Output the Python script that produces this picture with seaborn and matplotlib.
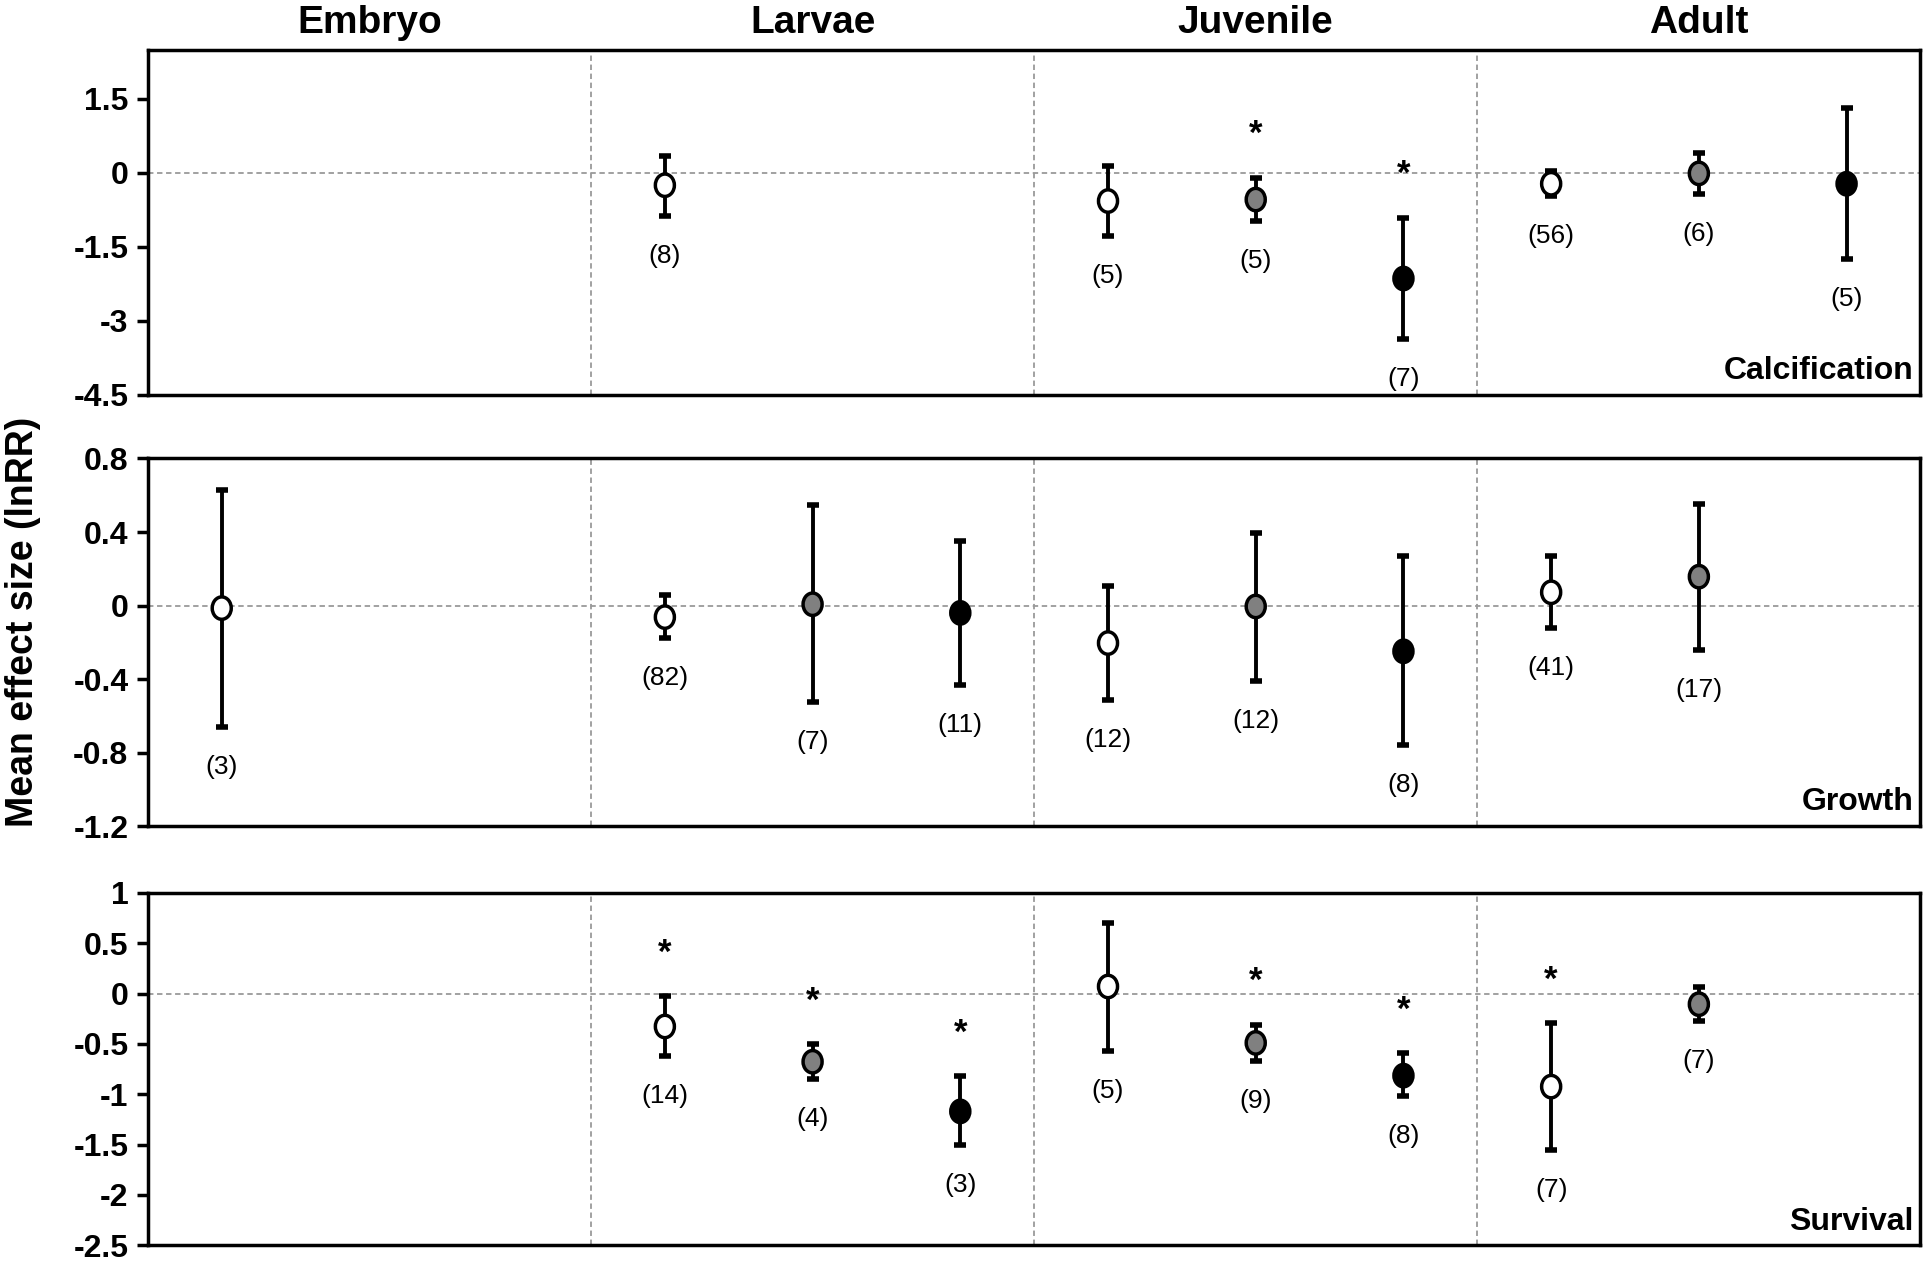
import numpy as np
import pandas as pd
import matplotlib
matplotlib.use("Agg")
import matplotlib.pyplot as plt
from matplotlib.ticker import FuncFormatter
from matplotlib.path import Path
from matplotlib.transforms import Affine2D
import seaborn as sns

# life stages (columns) and pCO2 levels (0 = white, 1 = grey, 2 = black)
stages = ["Embryo", "Larvae", "Juvenile", "Adult"]
level_colors = {0: "white", 1: "#808080", 2: "black"}

# Calcification
calc_stage = ["Larvae", "Juvenile", "Juvenile", "Juvenile", "Adult", "Adult", "Adult"]
calc_level = [0, 0, 1, 2, 0, 1, 2]
calc_mean = [-0.25, -0.57, -0.54, -2.14, -0.22, -0.01, -0.22]
calc_lo = [-0.88, -1.27, -0.97, -3.37, -0.46, -0.42, -1.75]
calc_hi = [0.35, 0.13, -0.10, -0.91, 0.03, 0.40, 1.32]
calc_n = [8, 5, 5, 7, 56, 6, 5]
calc_sig = [False, False, True, True, False, False, False]
calc_ticks = [-4.5, -3, -1.5, 0, 1.5]

# Growth
grow_stage = ["Embryo", "Larvae", "Larvae", "Larvae", "Juvenile", "Juvenile", "Juvenile", "Adult", "Adult"]
grow_level = [0, 0, 1, 2, 0, 1, 2, 0, 1]
grow_mean = [-0.014, -0.063, 0.007, -0.04, -0.204, -0.005, -0.249, 0.072, 0.157]
grow_lo = [-0.663, -0.177, -0.527, -0.433, -0.514, -0.409, -0.761, -0.123, -0.243]
grow_hi = [0.63, 0.058, 0.547, 0.353, 0.108, 0.397, 0.267, 0.267, 0.553]
grow_n = [3, 82, 7, 11, 12, 12, 8, 41, 17]
grow_sig = [False] * 9
grow_ticks = [-1.2, -0.8, -0.4, 0, 0.4, 0.8]

# Survival
surv_stage = ["Larvae", "Larvae", "Larvae", "Juvenile", "Juvenile", "Juvenile", "Adult", "Adult"]
surv_level = [0, 1, 2, 0, 1, 2, 0, 1]
surv_mean = [-0.327, -0.677, -1.17, 0.07, -0.49, -0.815, -0.924, -0.106]
surv_lo = [-0.617, -0.85, -1.50, -0.57, -0.67, -1.02, -1.55, -0.277]
surv_hi = [-0.026, -0.50, -0.82, 0.70, -0.31, -0.594, -0.297, 0.066]
surv_n = [14, 4, 3, 5, 9, 8, 7, 7]
surv_sig = [True, True, True, False, True, True, True, False]
surv_ticks = [-2.5, -2, -1.5, -1, -0.5, 0, 0.5, 1]

panels = [
    ("Calcification", calc_stage, calc_level, calc_mean, calc_lo, calc_hi, calc_n, calc_sig, calc_ticks, 2.5),
    ("Growth", grow_stage, grow_level, grow_mean, grow_lo, grow_hi, grow_n, grow_sig, grow_ticks, 0.8),
    ("Survival", surv_stage, surv_level, surv_mean, surv_lo, surv_hi, surv_n, surv_sig, surv_ticks, 1.0),
]

sns.set_style("white")
plt.rcParams["font.family"] = ["Liberation Sans", "DejaVu Sans"]
plt.rcParams["axes.unicode_minus"] = False
plt.rcParams["text.color"] = "black"
plt.rcParams["ytick.color"] = "black"
plt.rcParams["axes.labelcolor"] = "black"

# slightly tall oval marker, like the original figure
oval = Path.unit_circle().transformed(Affine2D().scale(0.85, 1.0))

fig = plt.figure(figsize=(19.33, 12.7), dpi=100)
boxes = [
    [0.0765, 0.689, 0.917, 0.272],
    [0.0765, 0.3495, 0.917, 0.2895],
    [0.0765, 0.0194, 0.917, 0.2776],
]

for i, (name, stg, lvl, mean, lo, hi, n, sig, ticks, ytop) in enumerate(panels):
    ax = fig.add_axes(boxes[i])
    df = pd.DataFrame({"stage": stg, "level": lvl, "mean": mean, "lo": lo, "hi": hi, "n": n, "sig": sig})
    df["x"] = [stages.index(s) * 3 + l for s, l in zip(df["stage"], df["level"])]

    ax.axhline(0, color="#9a9a9a", lw=1.3, ls=(0, (3, 2)), zorder=0)
    for b in [2.5, 5.5, 8.5]:
        ax.axvline(b, color="#9a9a9a", lw=1.3, ls=(0, (3, 2)), zorder=0)

    ax.errorbar(df["x"], df["mean"], yerr=[df["mean"] - df["lo"], df["hi"] - df["mean"]],
                fmt="none", ecolor="black", elinewidth=2.8, capsize=4.5, capthick=4, zorder=2)
    sns.scatterplot(data=df, x="x", y="mean", hue="level", palette=level_colors, s=260,
                    marker=oval, edgecolor="black", linewidth=2.5, legend=False, zorder=3, ax=ax)

    for _, r in df.iterrows():
        ax.annotate(f"({r['n']})", (r["x"], r["lo"]), xytext=(0, -40), textcoords="offset pixels",
                    ha="center", va="center", fontsize=19)
        if r["sig"]:
            ax.annotate("*", (r["x"], r["hi"]), xytext=(0, 43), textcoords="offset pixels",
                        ha="center", va="center", fontsize=25, fontweight="bold")

    ax.set_xlim(-0.5, 11.5)
    ax.set_ylim(min(ticks), ytop)
    ax.set_yticks(ticks)
    ax.yaxis.set_major_formatter(FuncFormatter(lambda v, p: f"{v:g}"))
    ax.set_xticks([])
    ax.set_xlabel("")
    ax.set_ylabel("")
    ax.tick_params(axis="y", left=True, direction="out", length=8, width=2.5, pad=6,
                   labelsize=23, colors="black")
    for lab in ax.get_yticklabels():
        lab.set_fontweight("bold")
    for sp in ax.spines.values():
        sp.set_linewidth(2.5)
        sp.set_color("black")

    ax.text(0.996, 0.025, name, transform=ax.transAxes, ha="right", va="bottom",
            fontsize=23, fontweight="bold")

    if i == 0:
        for k, s in enumerate(stages):
            ax.annotate(s, (k * 3 + 1, 1.0), xycoords=("data", "axes fraction"), xytext=(0, 27),
                        textcoords="offset pixels", ha="center", va="center",
                        fontsize=28, fontweight="bold")

fig.text(0.012, 0.51, "Mean effect size (lnRR)", rotation=90, ha="center", va="center",
         fontsize=27, fontweight="bold")

fig.savefig("out.png", dpi=100)
